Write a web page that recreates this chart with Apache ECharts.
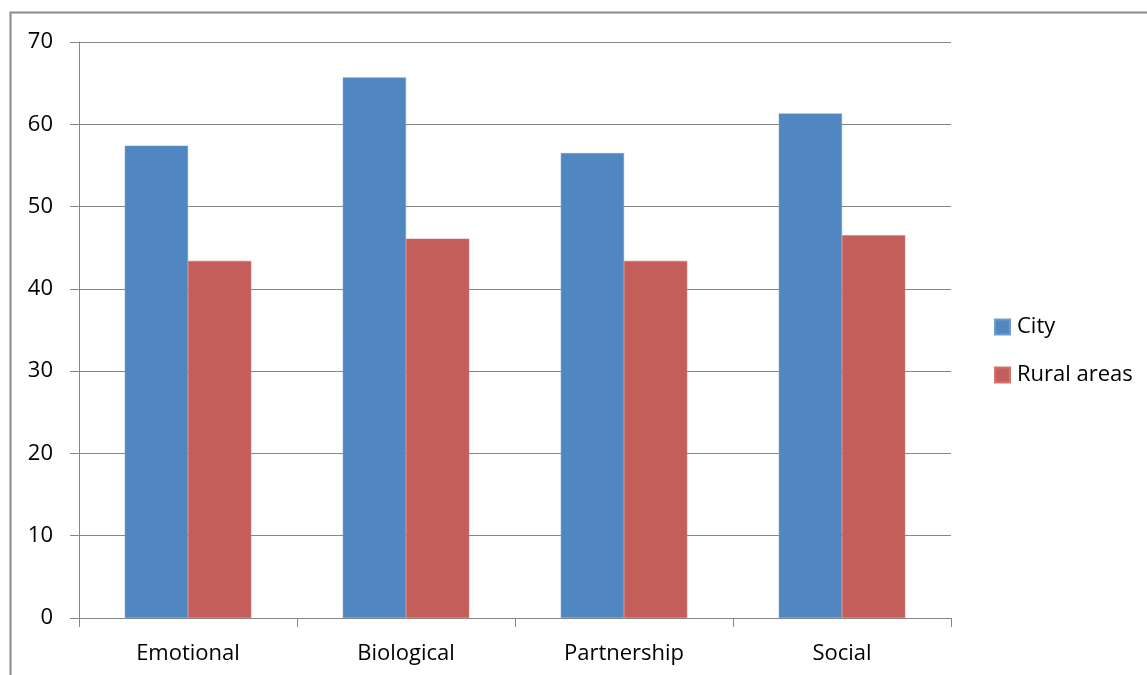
<!DOCTYPE html>
<html>
<head>
<meta charset="utf-8">
<script src="https://cdn.jsdelivr.net/npm/echarts@6/dist/echarts.min.js"></script>
<style>
  html, body { margin: 0; padding: 0; background: #fff; }
  #chart { width: 1147px; height: 675px; }
</style>
</head>
<body>
<div id="chart"></div>
<script>
// Categories and values per group
const categories = ['Emotional', 'Biological', 'Partnership', 'Social'];
const cityValues = [57.4, 65.7, 56.5, 61.3];
const ruralValues = [43.4, 46.1, 43.4, 46.5];
const seriesNames = ['City', 'Rural areas'];

const FONT = '"Open Sans", "Noto Sans", sans-serif';
const AXIS_GRAY = '#868686';

const chart = echarts.init(document.getElementById('chart'), null, { renderer: 'canvas' });

chart.setOption({
  animation: false,
  backgroundColor: '#ffffff',
  graphic: [{
    type: 'rect',
    left: 8, top: 10,
    shape: { width: 1200, height: 720 },
    style: { fill: 'none', stroke: '#8a8a8a', lineWidth: 2 },
    silent: true
  }],
  grid: { left: 79, top: 42, right: 196, bottom: 57, containLabel: false },
  legend: {
    orient: 'vertical',
    left: 994,
    top: 316,
    padding: 0,
    icon: 'rect',
    itemWidth: 15,
    itemHeight: 15,
    itemGap: 26,
    textStyle: { fontFamily: FONT, fontSize: 22, color: '#000', padding: [0, 0, 0, 2] },
    data: seriesNames
  },
  xAxis: {
    type: 'category',
    data: categories,
    boundaryGap: true,
    axisLine: { show: true, lineStyle: { color: AXIS_GRAY, width: 1 } },
    axisTick: { show: true, alignWithLabel: false, length: 9, lineStyle: { color: AXIS_GRAY } },
    axisLabel: { fontFamily: FONT, fontSize: 22, color: '#000', margin: 25 },
    splitLine: { show: false }
  },
  yAxis: {
    type: 'value',
    min: 0, max: 70, interval: 10,
    axisLine: { show: true, lineStyle: { color: AXIS_GRAY, width: 1 } },
    axisTick: { show: true, length: 9, lineStyle: { color: AXIS_GRAY } },
    axisLabel: { fontFamily: FONT, fontSize: 22, color: '#000', margin: 26 },
    splitLine: { show: true, lineStyle: { color: AXIS_GRAY, width: 1 } }
  },
  series: [
    {
      name: seriesNames[0],
      type: 'bar',
      data: cityValues,
      barGap: '0%',
      barCategoryGap: '42%',
      itemStyle: { color: '#5087C0', borderColor: '#6F9AD0', borderWidth: 0.5 }
    },
    {
      name: seriesNames[1],
      type: 'bar',
      data: ruralValues,
      barGap: '0%',
      barCategoryGap: '42%',
      itemStyle: { color: '#C35E5B', borderColor: '#D07471', borderWidth: 0.5 }
    }
  ]
});
</script>
</body>
</html>
